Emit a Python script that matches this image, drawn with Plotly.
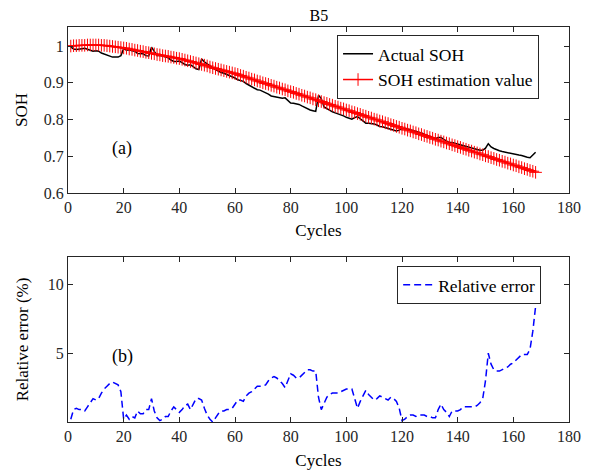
import plotly.graph_objects as go

cycles = list(range(1, 169))

actual_soh = [
    0.998, 0.992, 0.991, 0.993, 0.993, 0.994, 0.992, 0.989, 0.986, 0.987,
    0.986, 0.981, 0.978, 0.975, 0.972, 0.970, 0.970, 0.970, 0.974, 0.993,
    0.989, 0.990, 0.987, 0.986, 0.980, 0.980, 0.979, 0.974, 0.973, 0.997,
    0.987, 0.974, 0.975, 0.972, 0.969, 0.968, 0.962, 0.958, 0.958, 0.959,
    0.955, 0.950, 0.948, 0.949, 0.944, 0.938, 0.936, 0.965, 0.957, 0.951,
    0.945, 0.941, 0.936, 0.931, 0.928, 0.926, 0.923, 0.921, 0.918, 0.913,
    0.908, 0.905, 0.904, 0.898, 0.894, 0.890, 0.886, 0.881, 0.880, 0.877,
    0.874, 0.869, 0.864, 0.862, 0.860, 0.859, 0.858, 0.859, 0.852, 0.845,
    0.844, 0.843, 0.841, 0.837, 0.833, 0.828, 0.826, 0.824, 0.822, 0.866,
    0.857, 0.834, 0.829, 0.824, 0.821, 0.818, 0.816, 0.813, 0.810, 0.806,
    0.804, 0.801, 0.805, 0.808, 0.802, 0.796, 0.790, 0.790, 0.790, 0.788,
    0.785, 0.781, 0.780, 0.778, 0.776, 0.772, 0.771, 0.769, 0.771, 0.775,
    0.776, 0.774, 0.773, 0.770, 0.767, 0.765, 0.763, 0.760, 0.757, 0.754,
    0.751, 0.748, 0.751, 0.751, 0.746, 0.741, 0.737, 0.737, 0.735, 0.732,
    0.731, 0.729, 0.727, 0.724, 0.722, 0.719, 0.718, 0.716, 0.716, 0.722,
    0.734, 0.725, 0.721, 0.717, 0.715, 0.713, 0.711, 0.709, 0.708, 0.706,
    0.705, 0.703, 0.702, 0.699, 0.697, 0.696, 0.703, 0.711,
]

estimated_soh = [
    1.000, 1.001, 1.001, 1.002, 1.002, 1.002, 1.003, 1.003, 1.003, 1.003,
    1.003, 1.002, 1.002, 1.001, 1.000, 0.999, 0.998, 0.997, 0.996, 0.995,
    0.994, 0.992, 0.991, 0.989, 0.988, 0.986, 0.985, 0.983, 0.982, 0.980,
    0.979, 0.977, 0.976, 0.974, 0.973, 0.972, 0.970, 0.969, 0.967, 0.966,
    0.964, 0.962, 0.960, 0.958, 0.956, 0.954, 0.952, 0.950, 0.948, 0.946,
    0.943, 0.941, 0.939, 0.937, 0.935, 0.933, 0.931, 0.929, 0.927, 0.925,
    0.923, 0.920, 0.918, 0.915, 0.913, 0.910, 0.908, 0.905, 0.903, 0.900,
    0.898, 0.896, 0.893, 0.891, 0.888, 0.886, 0.883, 0.881, 0.878, 0.876,
    0.874, 0.871, 0.869, 0.866, 0.864, 0.861, 0.859, 0.856, 0.854, 0.851,
    0.849, 0.846, 0.844, 0.841, 0.839, 0.836, 0.834, 0.831, 0.829, 0.826,
    0.824, 0.821, 0.819, 0.816, 0.814, 0.811, 0.809, 0.806, 0.804, 0.801,
    0.799, 0.796, 0.794, 0.791, 0.789, 0.786, 0.784, 0.781, 0.779, 0.776,
    0.774, 0.771, 0.769, 0.766, 0.764, 0.761, 0.759, 0.756, 0.754, 0.751,
    0.749, 0.746, 0.744, 0.741, 0.739, 0.736, 0.734, 0.731, 0.729, 0.726,
    0.724, 0.721, 0.719, 0.716, 0.714, 0.711, 0.709, 0.706, 0.704, 0.701,
    0.699, 0.696, 0.694, 0.691, 0.689, 0.686, 0.684, 0.681, 0.679, 0.676,
    0.674, 0.671, 0.669, 0.666, 0.664, 0.661, 0.659, 0.656,
]

relative_error = [
    0.2, 0.9, 1.0, 0.9, 0.9, 0.8, 1.1, 1.4, 1.7, 1.6,
    1.7, 2.1, 2.4, 2.6, 2.8, 2.9, 2.8, 2.7, 2.2, 0.2,
    0.5, 0.2, 0.4, 0.3, 0.8, 0.6, 0.6, 0.9, 0.9, 1.7,
    0.8, 0.3, 0.1, 0.2, 0.4, 0.4, 0.8, 1.1, 0.9, 0.7,
    0.9, 1.2, 1.3, 0.9, 1.3, 1.7, 1.7, 1.6, 1.0, 0.5,
    0.2, 0.0, 0.3, 0.6, 0.8, 0.8, 0.9, 0.9, 1.0, 1.3,
    1.6, 1.6, 1.5, 1.9, 2.1, 2.2, 2.4, 2.6, 2.6, 2.6,
    2.7, 3.0, 3.2, 3.3, 3.2, 3.0, 2.8, 2.5, 3.0, 3.5,
    3.4, 3.2, 3.2, 3.4, 3.6, 3.8, 3.8, 3.7, 3.7, 1.8,
    0.9, 1.4, 1.8, 2.0, 2.1, 2.1, 2.1, 2.2, 2.3, 2.4,
    2.4, 2.4, 1.7, 1.0, 1.5, 1.9, 2.3, 2.0, 1.8, 1.6,
    1.7, 1.9, 1.8, 1.7, 1.6, 1.8, 1.7, 1.5, 1.0, 0.1,
    0.2, 0.4, 0.5, 0.5, 0.4, 0.5, 0.5, 0.5, 0.4, 0.4,
    0.3, 0.3, 0.9, 1.3, 0.9, 0.7, 0.4, 0.8, 0.8, 0.8,
    0.9, 1.1, 1.1, 1.1, 1.1, 1.1, 1.2, 1.4, 1.7, 3.0,
    5.0, 4.2, 3.8, 3.7, 3.7, 3.8, 3.9, 4.0, 4.2, 4.3,
    4.5, 4.7, 4.9, 4.9, 4.9, 5.3, 6.6, 8.4,
]

x_ticks = [0, 20, 40, 60, 80, 100, 120, 140, 160, 180]
soh_ticks = [0.6, 0.7, 0.8, 0.9, 1.0]
soh_tick_labels = ["0.6", "0.7", "0.8", "0.9", "1"]
err_ticks = [5, 10]

FONT = "Liberation Serif"

fig = go.Figure()

fig.add_trace(go.Scatter(
    x=cycles, y=actual_soh, mode="lines", name="Actual SOH",
    line=dict(color="black", width=1.5), xaxis="x", yaxis="y", legend="legend",
))
fig.add_trace(go.Scatter(
    x=cycles, y=estimated_soh, mode="lines+markers", name="SOH estimation value",
    line=dict(color="red", width=1.5),
    marker=dict(symbol="cross-thin", size=9, line=dict(color="red", width=1)),
    xaxis="x", yaxis="y", legend="legend",
))
fig.add_trace(go.Scatter(
    x=cycles, y=relative_error, mode="lines", name="Relative error",
    line=dict(color="blue", width=1.5, dash="7px,4px"),
    xaxis="x2", yaxis="y2", legend="legend2",
))

axis_common = dict(
    showgrid=False, zeroline=False, showline=True, linecolor="#262626", linewidth=1,
    mirror="allticks", ticks="inside", ticklen=5, tickcolor="#262626", automargin=False,
    tickfont=dict(family=FONT, size=16, color="#262626"),
)

fig.update_layout(
    width=605, height=472,
    margin=dict(l=68, r=36, t=27, b=50, autoexpand=False),
    paper_bgcolor="white", plot_bgcolor="white",
    font=dict(family=FONT, size=16, color="black"),
    showlegend=True,
    title=dict(text="B5", x=0.527, xanchor="center", y=0.968, yanchor="middle",
               font=dict(family=FONT, size=16, color="black"), automargin=False),
    xaxis=dict(axis_common, domain=[0, 1], range=[0, 180], tickvals=x_ticks, anchor="y",
               title=dict(text="Cycles", standoff=9, font=dict(family=FONT, size=17))),
    yaxis=dict(axis_common, domain=[0.58, 1], range=[0.6, 1.052], tickvals=soh_ticks,
               ticktext=soh_tick_labels, anchor="x",
               title=dict(text="SOH", standoff=11, font=dict(family=FONT, size=17))),
    xaxis2=dict(axis_common, domain=[0, 1], range=[0, 180], tickvals=x_ticks, anchor="y2",
                title=dict(text="Cycles", standoff=9, font=dict(family=FONT, size=17))),
    yaxis2=dict(axis_common, domain=[0, 0.418], range=[0, 12], tickvals=err_ticks, anchor="x2",
                title=dict(text="Relative error (%)", standoff=14, font=dict(family=FONT, size=17))),
    legend=dict(x=0.537, y=0.98, xanchor="left", yanchor="top", bgcolor="white",
                bordercolor="#262626", borderwidth=1, tracegroupgap=0,
                font=dict(family=FONT, size=17.5, color="black")),
    legend2=dict(x=0.657, y=0.395, xanchor="left", yanchor="top", bgcolor="white",
                 bordercolor="#262626", borderwidth=1,
                 font=dict(family=FONT, size=17.5, color="black")),
    annotations=[
        dict(text="(a)", x=19.5, y=0.72, xref="x", yref="y", showarrow=False,
             font=dict(family=FONT, size=18, color="black")),
        dict(text="(b)", x=19.5, y=4.75, xref="x2", yref="y2", showarrow=False,
             font=dict(family=FONT, size=18, color="black")),
    ],
)

fig.write_html("out.html", config={"displayModeBar": False},
               post_script="document.body.style.margin='0';document.body.style.padding='0';")
